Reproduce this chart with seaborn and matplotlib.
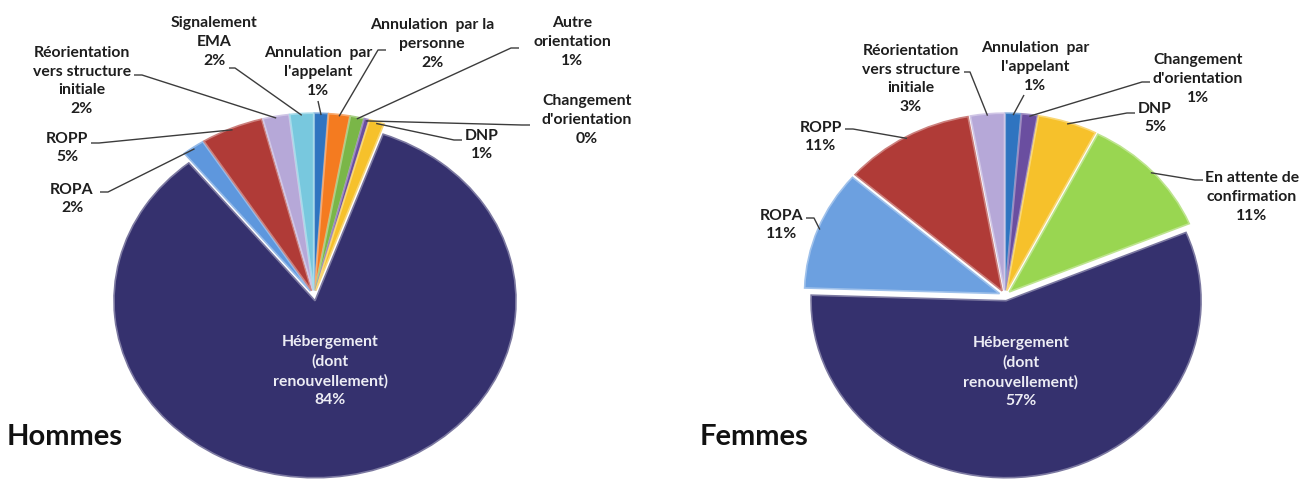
import matplotlib
matplotlib.use("Agg")
import matplotlib.pyplot as plt
import matplotlib.colors as mcolors
import seaborn as sns
import numpy as np

# ---------------- data ----------------
hommes_categories = ["Annulation  par\nl'appelant", "Annulation  par la\npersonne", "Autre\norientation",
                     "Changement\nd'orientation", "DNP", "Hébergement\n(dont\nrenouvellement)",
                     "ROPA", "ROPP", "Réorientation\nvers structure\ninitiale", "Signalement\nEMA"]
hommes_values = [1.1, 1.7, 1.1, 0.4, 1.2, 83.7, 1.8, 5.0, 2.1, 1.9]
hommes_colors = ["#2F74C0", "#F47B20", "#7AB648", "#6A4EA0", "#F6C12B", "#35316E",
                 "#5E97DD", "#B03B37", "#B6A8D8", "#78C8DE"]

femmes_categories = ["Annulation  par\nl'appelant", "Changement\nd'orientation", "DNP",
                     "En attente de\nconfirmation", "Hébergement\n(dont\nrenouvellement)",
                     "ROPA", "ROPP", "Réorientation\nvers structure\ninitiale"]
femmes_values = [1.3, 1.3, 4.9, 11.2, 56.8, 10.9, 10.8, 2.8]
femmes_colors = ["#2F74C0", "#6A4EA0", "#F6C12B", "#99D651", "#35316E",
                 "#6CA0E0", "#B03B37", "#B6A8D8"]

# ---------------- layout (pixels, origin top-left) ----------------
W, H = 1304, 479
hommes_text_pos = [(318, 72), (432, 44), (572, 42), (587, 120), (482, 145), (330, 371),
                   (72, 199), (67, 148), (82, 81), (214, 42)]
hommes_lead_start = [(318, 101), (386, 50), (519, 48), (530, 125), (462, 140), None,
                     (100, 192), (91, 143), (134, 75), (229, 68)]
hommes_elbow = [0, 8, 8, 8, 8, 0, 8, 8, 8, 6]

femmes_text_pos = [(1035, 67), (1198, 79), (1155, 118), (1252, 197), (1021, 372),
                   (782, 225), (821, 137), (911, 79)]
femmes_lead_start = [(1024, 95), (1150, 82), (1135, 113), (1203, 180), None,
                     (806, 218), (845, 129), (964, 72)]
femmes_elbow = [0, 8, 8, 8, 0, 8, 8, 6]

sns.set_theme(style="white")
plt.rcParams['font.family'] = ['Lato', 'DejaVu Sans']

fig = plt.figure(figsize=(W / 100, H / 100), dpi=100)
fig.patch.set_facecolor("white")


def lighten(c, f):
    r = np.array(mcolors.to_rgb(c))
    return tuple(r + (1 - r) * f)


def draw_pie(x0, x1, cx, cy, rx, ry, cats, vals, cols, text_pos, lead_start, elbow, inside_idx, explode):
    ax = fig.add_axes([x0 / W, 0, (x1 - x0) / W, 1])
    wedges, _ = ax.pie(vals, colors=cols, startangle=90, counterclock=False,
                       explode=[explode] * len(vals), radius=1,
                       wedgeprops=dict(linewidth=1.2))
    for w, c in zip(wedges, cols):
        w.set_edgecolor(lighten(c, 0.35))
    ax.set_aspect("auto")
    ax.set_xlim((x0 - cx) / rx, (x1 - cx) / rx)
    ax.set_ylim((cy - H) / ry, cy / ry)
    ax.axis("off")

    def to_data(px, py):
        return ((px - cx) / rx, (cy - py) / ry)

    total = sum(vals)
    for i, (w, cat, v) in enumerate(zip(wedges, cats, vals)):
        pct = f"{round(100 * v / total):.0f}%"
        tx, ty = to_data(*text_pos[i])
        color = "#ECECF4" if i == inside_idx else "#1E1E1E"
        ax.text(tx, ty, f"{cat}\n{pct}", ha="center", va="center", fontsize=11.3,
                fontweight="bold", color=color, linespacing=1.45, clip_on=False)
        if lead_start[i] is None:
            continue
        mid = np.deg2rad((w.theta1 + w.theta2) / 2)
        ex = w.center[0] + w.r * 0.99 * np.cos(mid)
        ey = w.center[1] + w.r * 0.99 * np.sin(mid)
        sx, sy = lead_start[i]
        ex_px = cx + ex * rx
        direction = 1 if ex_px > sx else -1
        pts_px = [(sx, sy)]
        if elbow[i]:
            pts_px.append((sx + direction * elbow[i], sy))
        xs = [to_data(*p)[0] for p in pts_px] + [ex]
        ys = [to_data(*p)[1] for p in pts_px] + [ey]
        ax.plot(xs, ys, color="#3C3C3C", lw=1.0, solid_capstyle="butt", clip_on=False)
    return ax


draw_pie(0, 652, 314, 295.5, 201, 177, hommes_categories, hommes_values, hommes_colors,
         hommes_text_pos, hommes_lead_start, hommes_elbow, 5, 0.03)
draw_pie(652, 1304, 1005, 295.5, 195, 177, femmes_categories, femmes_values, femmes_colors,
         femmes_text_pos, femmes_lead_start, femmes_elbow, 4, 0.03)

fig.text(7 / W, 1 - 437 / H, "Hommes", fontsize=21, fontweight="bold", ha="left", va="center", color="#111111")
fig.text(700 / W, 1 - 437 / H, "Femmes", fontsize=21, fontweight="bold", ha="left", va="center", color="#111111")

fig.savefig("out.png", dpi=100, facecolor="white")
